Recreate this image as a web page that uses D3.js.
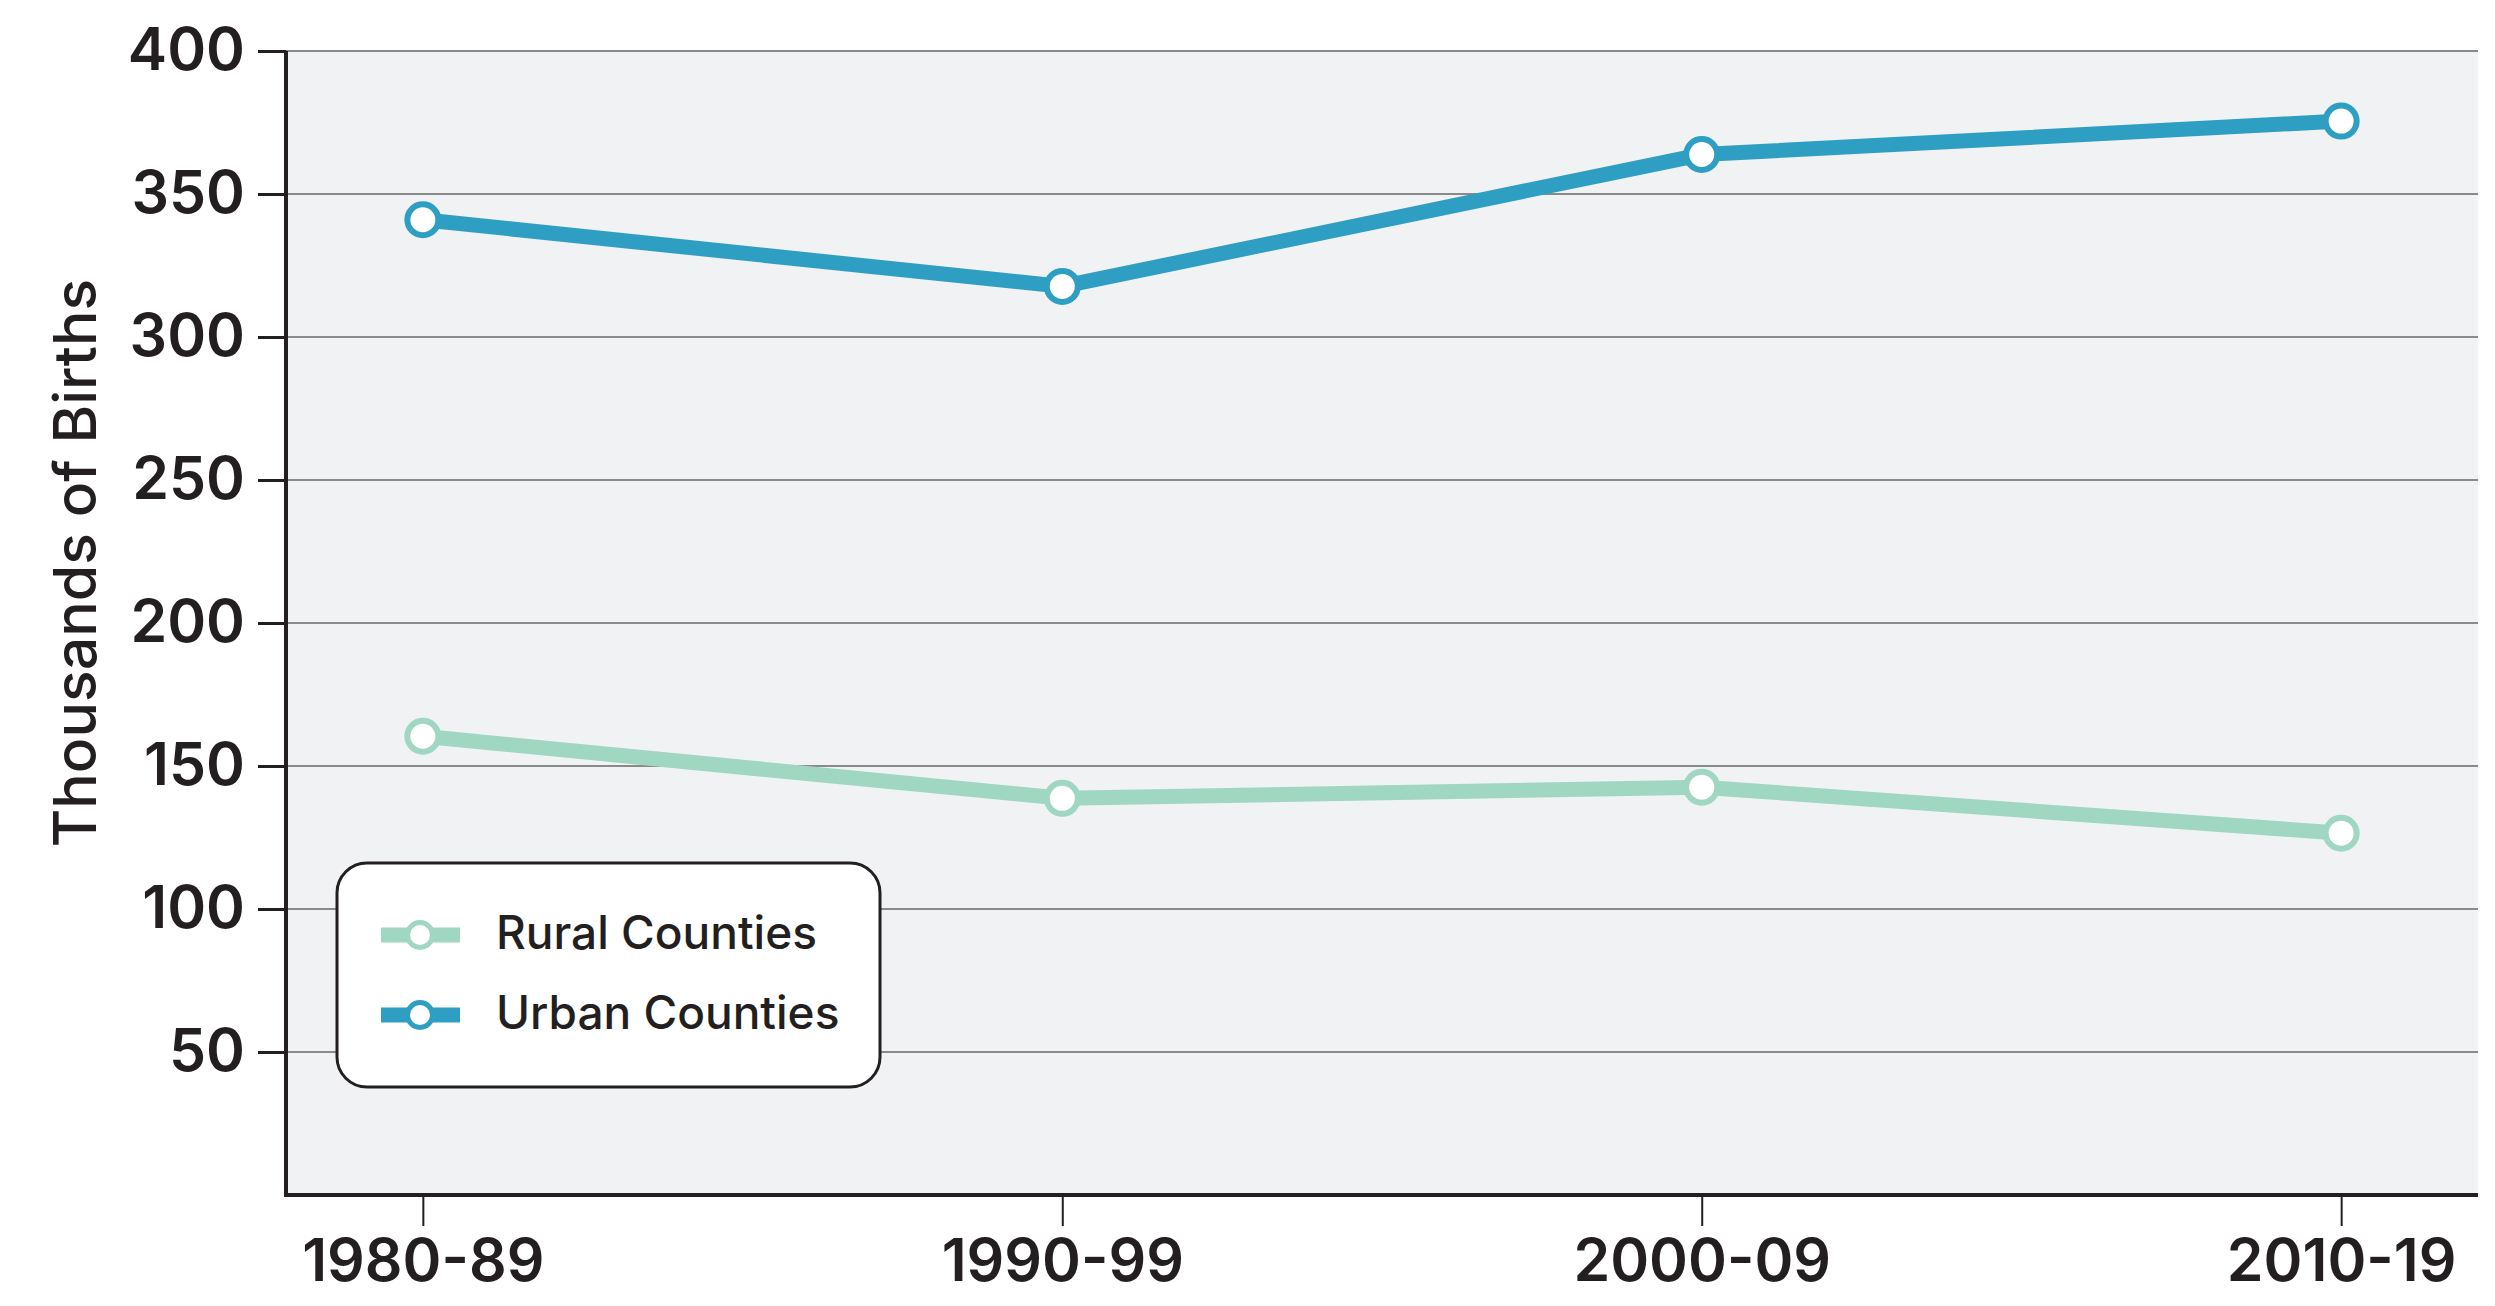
<!DOCTYPE html>
<html>
<head>
<meta charset="utf-8">
<script src="https://cdnjs.cloudflare.com/ajax/libs/d3/7.8.5/d3.min.js"></script>
<style>
  body { margin: 0; background: #fff; }
  svg { display: block; font-family: Inter, "Open Sans", sans-serif; }
</style>
</head>
<body>
<div id="chart"></div>
<script>
var decades = ["1980-89", "1990-99", "2000-09", "2010-19"];
var rural = [160.4, 138.7, 142.6, 126.5];
var urban = [341, 317.7, 363.8, 375.5];
var yTicks = [50, 100, 150, 200, 250, 300, 350, 400];
var seriesNames = ["Rural Counties", "Urban Counties"];
var seriesColors = ["#9fd7c2", "#2e9fc2"];

var width = 2495, height = 1306;
var plotLeft = 286, plotRight = 2478, plotTop = 51, plotBottom = 1195;
var ink = "#231f20";

var svg = d3.select("#chart").append("svg")
    .attr("width", width)
    .attr("height", height);

var x = d3.scalePoint().domain(decades).range([plotLeft, plotRight]).padding(0.214);
var y = d3.scaleLinear().domain([0, 400]).range([plotBottom, plotTop]);

// plot background
svg.append("rect")
    .attr("x", plotLeft).attr("y", plotTop)
    .attr("width", plotRight - plotLeft).attr("height", plotBottom - plotTop)
    .attr("fill", "#f1f2f4");

// grid lines
svg.append("g").selectAll("line")
    .data(yTicks)
    .enter().append("line")
    .attr("x1", plotLeft).attr("x2", plotRight)
    .attr("y1", function (d) { return y(d); })
    .attr("y2", function (d) { return y(d); })
    .attr("stroke", "#8a8a8a")
    .attr("stroke-width", 2);

// y axis
var yAxis = svg.append("g")
    .attr("transform", "translate(" + plotLeft + ",0)")
    .call(d3.axisLeft(y).tickValues(yTicks).tickSize(28).tickPadding(13));
yAxis.select(".domain").remove();
yAxis.selectAll(".tick line").attr("stroke", ink).attr("stroke-width", 3);
yAxis.selectAll(".tick text")
    .attr("fill", ink)
    .style("font-size", "59px")
    .style("font-weight", "600")
    .style("font-family", "Inter, sans-serif");

// x axis
var xAxis = svg.append("g")
    .attr("transform", "translate(0," + plotBottom + ")")
    .call(d3.axisBottom(x).tickSize(31).tickPadding(13));
xAxis.select(".domain").remove();
xAxis.selectAll(".tick line").attr("stroke", ink).attr("stroke-width", 2);
xAxis.selectAll(".tick text")
    .attr("fill", ink)
    .attr("dy", "0.71em")
    .style("font-size", "59px")
    .style("font-weight", "600")
    .style("font-family", "Inter, sans-serif");

// axis lines
svg.append("line")
    .attr("x1", plotLeft).attr("x2", plotLeft)
    .attr("y1", plotTop).attr("y2", plotBottom + 2)
    .attr("stroke", ink).attr("stroke-width", 4);
svg.append("line")
    .attr("x1", plotLeft - 2).attr("x2", plotRight)
    .attr("y1", plotBottom).attr("y2", plotBottom)
    .attr("stroke", ink).attr("stroke-width", 4);

// y title
svg.append("text")
    .attr("transform", "translate(96,563) rotate(-90)")
    .attr("text-anchor", "middle")
    .attr("fill", ink)
    .style("font-size", "59px")
    .style("font-weight", "500")
    .text("Thousands of Births");

// lines + markers
var series = [rural, urban];
var line = d3.line()
    .x(function (d, i) { return x(decades[i]); })
    .y(function (d) { return y(d); });

series.forEach(function (vals, s) {
    svg.append("path")
        .datum(vals)
        .attr("d", line)
        .attr("fill", "none")
        .attr("stroke", seriesColors[s])
        .attr("stroke-width", 15)
        .attr("stroke-linejoin", "round");
    svg.append("g").selectAll("circle")
        .data(vals)
        .enter().append("circle")
        .attr("cx", function (d, i) { return x(decades[i]); })
        .attr("cy", function (d) { return y(d); })
        .attr("r", 15.5)
        .attr("fill", "#fff")
        .attr("stroke", seriesColors[s])
        .attr("stroke-width", 6);
});

// legend
var legend = svg.append("g");
legend.append("rect")
    .attr("x", 337).attr("y", 863)
    .attr("width", 543).attr("height", 224)
    .attr("rx", 30).attr("ry", 30)
    .attr("fill", "#fff")
    .attr("stroke", ink)
    .attr("stroke-width", 3);

var rowY = [935, 1015];
seriesNames.forEach(function (name, s) {
    var row = legend.append("g").attr("transform", "translate(0," + rowY[s] + ")");
    row.append("line")
        .attr("x1", 381).attr("x2", 460)
        .attr("stroke", seriesColors[s])
        .attr("stroke-width", 15);
    row.append("circle")
        .attr("cx", 420).attr("r", 12.5)
        .attr("fill", "#fff")
        .attr("stroke", seriesColors[s])
        .attr("stroke-width", 5);
    row.append("text")
        .attr("x", 496).attr("y", 14)
        .attr("fill", ink)
        .style("font-size", "46px")
        .style("font-weight", "500")
        .text(name);
});
</script>
</body>
</html>
